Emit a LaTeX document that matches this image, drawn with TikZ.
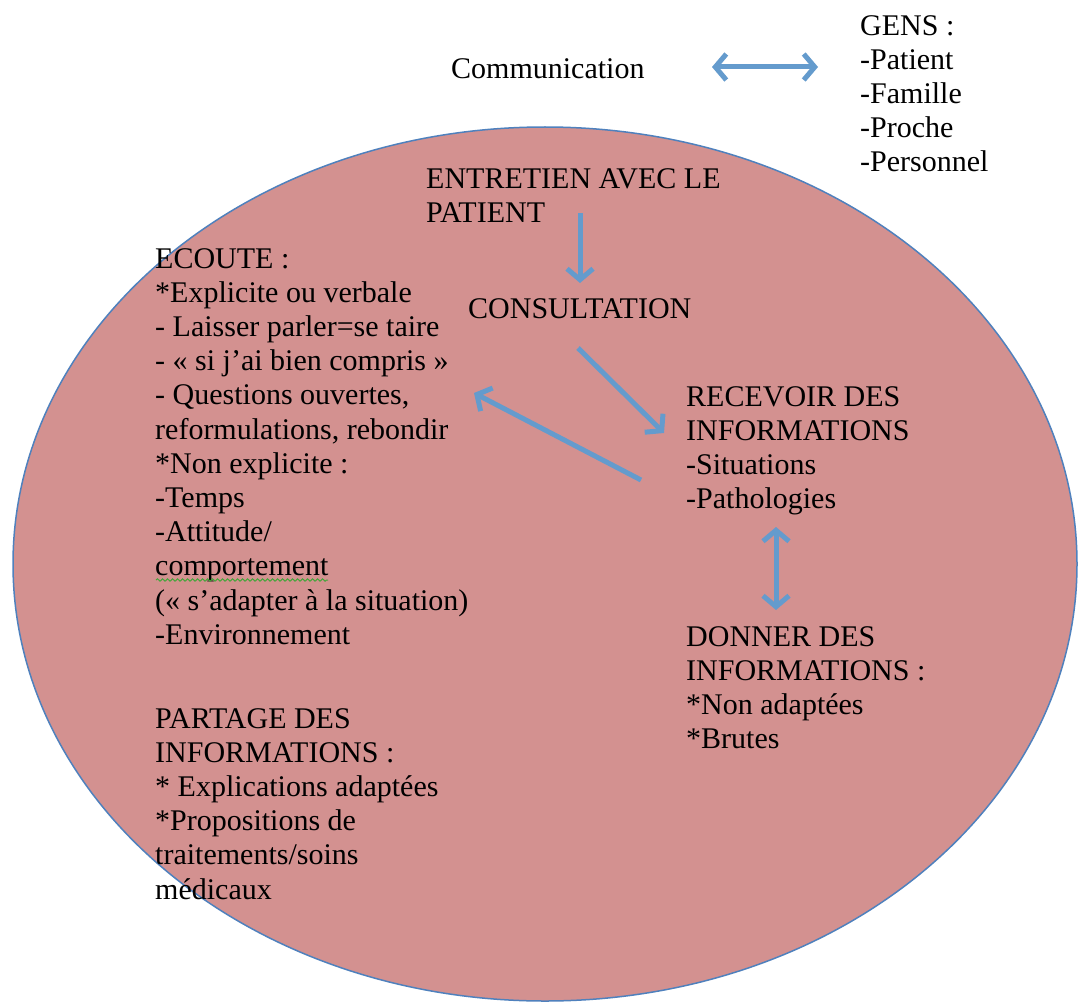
\documentclass[tikz,border=0pt]{standalone}
\usepackage{fontspec}
\setmainfont{Liberation Serif}
\usetikzlibrary{arrows.meta,decorations.pathmorphing,shapes.geometric}
\definecolor{ovalfill}{RGB}{211,145,144}
\definecolor{ovalline}{RGB}{79,129,189}
\definecolor{arrowblue}{RGB}{100,155,205}
\definecolor{squiggle}{RGB}{70,165,60}
\begin{document}
\begin{tikzpicture}[x=1pt,y=-1pt,
  txt/.style={anchor=north west, inner sep=0pt, align=left, font=\fontsize{30}{34.2}\selectfont},
  barb/.tip={Straight Barb[length=11pt,width=26pt]},
  conn/.style={draw=arrowblue, line width=5pt, -barb},
  conntwo/.style={draw=arrowblue, line width=5pt, barb-barb}]
\useasboundingbox (0,0) rectangle (1078,1003);
\fill[white] (0,0) rectangle (1078,1003);

\node (oval) [ellipse, draw=ovalline, line width=1.5pt, fill=ovalfill,
  minimum width=1064pt, minimum height=874pt, inner sep=0pt] at (545,564) {};

\node (comm) [txt] at (451,58) {Communication};
\node (gens) [txt] at (860,15) {GENS :\\-Patient\\-Famille\\-Proche\\-Personnel};
\node (entretien) [txt] at (426,168) {ENTRETIEN AVEC LE\\PATIENT};
\node (consult) [txt] at (468,298) {CONSULTATION};
\node (ecoute) [txt] at (155,248) {ECOUTE :\\*Explicite ou verbale\\- Laisser parler=se taire\\- « si j’ai bien compris »\\- Questions ouvertes,\\reformulations, rebondir\\*Non explicite :\\-Temps\\-Attitude/\\comportement\\(« s’adapter à la situation)\\-Environnement};
\node (recevoir) [txt] at (686,386) {RECEVOIR DES\\INFORMATIONS\\-Situations\\-Pathologies};
\node (donner) [txt] at (686,626) {DONNER DES\\INFORMATIONS :\\*Non adaptées\\*Brutes};
\node (partage) [txt] at (155,708) {PARTAGE DES\\INFORMATIONS :\\* Explications adaptées\\*Propositions de\\traitements/soins\\médicaux};

\coordinate (commR) at (712,67);
\coordinate (gensL) at (818,67);
\coordinate (entB) at (580,213);
\coordinate (conT) at (580,283);
\coordinate (conB) at (578,348);
\coordinate (recTL) at (664,433);
\coordinate (recL) at (641,480);
\coordinate (ecoR) at (474,393);
\coordinate (recB) at (776,527);
\coordinate (donT) at (776,610);
\coordinate (sqA) at (156,580);
\coordinate (sqB) at (328,580);

\draw[conntwo] (commR) -- (gensL);
\draw[conn] (entB) -- (conT);
\draw[conn] (conB) -- (recTL);
\draw[conn] (recL) -- (ecoR);
\draw[conntwo] (recB) -- (donT);

\draw[squiggle, line width=1pt, decorate, decoration={snake, amplitude=1.2pt, segment length=5pt}] (sqA) -- (sqB);
\end{tikzpicture}
\end{document}
